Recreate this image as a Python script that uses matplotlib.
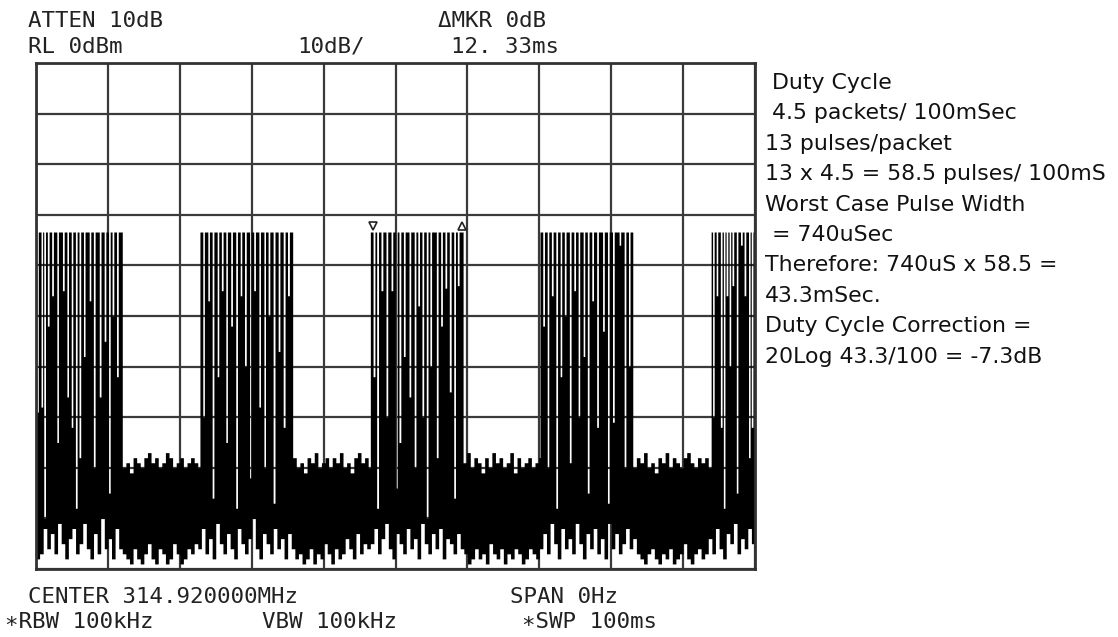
import numpy as np
import matplotlib.pyplot as plt
from matplotlib.transforms import offset_copy

# zero span sweep, 100 ms, 10 dB/div from 0 dBm
sweep_ms = 100
ref_db = 0
db_div = 10

pulse_top = -33.4
packet_start = [0.0, 22.8, 46.5, 70.1, 93.9]
packet_end = [12.0, 35.7, 59.4, 83.0, 100.0]

# white gaps between pulses: (time ms, level the gap reaches down to)
gaps_1 = [(0.2, -69), (0.8, -68), (1.2, -90), (1.7, -52), (2.3, -46), (3.0, -75), (3.8, -45),
          (4.4, -66), (5.0, -72), (5.6, -88), (6.1, -78), (6.7, -58), (7.5, -47), (8.1, -80),
          (8.9, -66), (9.6, -55), (10.2, -85), (10.7, -50), (11.3, -62)]
gaps_2 = [(23.3, -70), (24.0, -47), (24.6, -86), (25.3, -62), (25.9, -45), (26.5, -75), (27.2, -52),
          (27.9, -88), (28.5, -46), (29.1, -60), (29.8, -82), (30.4, -45), (31.1, -68), (31.8, -80),
          (32.4, -50), (33.1, -87), (33.8, -57), (34.5, -72), (35.1, -46)]
gaps_3 = [(47.0, -62), (47.5, -88), (48.1, -45), (48.8, -70), (49.5, -45), (50.1, -84), (50.6, -75),
          (51.2, -58), (52.0, -66), (52.7, -80), (53.2, -48), (53.8, -70), (54.4, -90), (54.9, -60),
          (55.8, -78), (56.4, -52), (57.0, -44.5), (57.6, -65), (58.2, -86), (58.7, -44)]
gaps_4 = [(70.6, -52), (71.2, -80), (71.8, -46), (72.4, -88), (73.0, -62), (73.6, -50), (74.3, -79),
          (74.9, -45), (75.5, -70), (76.2, -58), (76.8, -85), (77.4, -47), (78.1, -72), (78.9, -53),
          (79.6, -87), (80.3, -71), (81.2, -36), (81.9, -80), (82.5, -60)]
gaps_5 = [(94.2, -70), (94.7, -46), (95.3, -72), (95.7, -88), (96.1, -46), (96.5, -60), (96.9, -44),
          (97.5, -85), (98.1, -36), (98.6, -46), (99.2, -78), (99.6, -72)]
gap_width = 0.24

# top of the noise floor between packets, 0.5 ms steps from each packet end
bin_ms = 0.5
quiet_top_1 = [-80, -79, -81, -78, -79, -80, -78, -77, -79, -78, -80, -79, -77, -78, -80, -79, -78,
               -80, -79, -78, -79, -80]
quiet_top_2 = [-78, -80, -79, -81, -78, -79, -77, -80, -79, -78, -80, -78, -79, -77, -80, -79, -81,
               -78, -77, -79, -78, -80]
quiet_top_3 = [-79, -77, -80, -78, -79, -81, -78, -80, -77, -79, -78, -80, -79, -77, -81, -78, -80,
               -79, -78, -80, -79, -78]
quiet_top_4 = [-80, -78, -79, -77, -80, -79, -81, -78, -79, -77, -80, -78, -79, -80, -78, -77, -79,
               -80, -78, -79, -78, -80]
quiet_top = [quiet_top_1, quiet_top_2, quiet_top_3, quiet_top_4]

# bottom of the trace, 0.5 ms steps over the whole sweep
floor_bottom = [
    -98, -97, -92, -96, -93, -97, -91, -95, -98, -94, -92, -97, -95, -91, -96, -98, -93, -97, -90, -96,
    -94, -98, -92, -96,
    -97, -98, -99, -96, -98, -99, -97, -95, -98, -99, -96, -97, -99, -98, -95, -97, -99, -98, -96, -97,
    -95,
    -96, -92, -97, -94, -98, -91, -95, -97, -93, -96, -98, -92, -95, -97, -94, -90, -96, -98, -93, -95,
    -97, -92, -96, -94, -98, -93, -96,
    -98, -97, -99, -98, -96, -99, -97, -98, -95, -97, -99, -96, -98, -97, -94, -96, -98, -93, -97, -95,
    -96,
    -95, -92, -97, -94, -91, -96, -98, -93, -95, -97, -92, -96, -94, -98, -91, -95, -97, -93, -96, -92,
    -98, -94, -95, -97, -93, -96,
    -97, -99, -98, -96, -98, -97, -99, -95, -97, -98, -96, -99, -97, -98, -96, -97, -99, -98, -96, -97,
    -98,
    -96, -93, -97, -91, -95, -98, -92, -96, -94, -97, -91, -95, -98, -93, -96, -92, -97, -94, -98, -91,
    -96, -93, -97, -95, -92, -96, -94,
    -97, -98, -99, -97, -96, -98, -99, -97, -98, -96, -99, -98, -97, -95, -98, -99, -97, -96, -98, -97,
    -94, -97, -92, -96, -98, -93, -95, -91, -97, -94, -96, -92, -95,
]

mkr_ms = 46.85
mkr_delta_ms = 12.33

header = [("ATTEN 10dB", 28, 27), ("RL 0dBm", 28, 53), ("10dB/", 297, 53),
          ("\u0394MKR 0dB", 438, 27), ("12. 33ms", 451, 53)]
footer = [("CENTER 314.920000MHz", 28, 603), ("SPAN 0Hz", 510, 603),
          ("\u2217RBW 100kHz", 5, 628), ("VBW 100kHz", 262, 628), ("\u2217SWP 100ms", 522, 628)]
notes = [" Duty Cycle", " 4.5 packets/ 100mSec", "13 pulses/packet", "13 x 4.5 = 58.5 pulses/ 100mS",
         "Worst Case Pulse Width", " = 740uSec", "Therefore: 740uS x 58.5 =", "43.3mSec.",
         "Duty Cycle Correction =", "20Log 43.3/100 = -7.3dB"]

# build the trace envelope
t = np.arange(0, sweep_ms, 0.02)
b = np.minimum((t / bin_ms).astype(int), len(floor_bottom) - 1)
lo = np.array(floor_bottom, dtype=float)[b]
hi = np.full_like(t, -80.0)
for k in range(4):
    m = (t >= packet_end[k]) & (t < packet_start[k + 1])
    idx = np.minimum(((t[m] - packet_end[k]) / bin_ms).astype(int), len(quiet_top[k]) - 1)
    hi[m] = np.array(quiet_top[k], dtype=float)[idx]
for s, e in zip(packet_start, packet_end):
    hi[(t >= s) & (t < e)] = pulse_top
for gaps in [gaps_1, gaps_2, gaps_3, gaps_4, gaps_5]:
    for gt, depth in gaps:
        hi[np.abs(t - gt) < gap_width / 2] = depth

W, H = 1118, 637
fig = plt.figure(figsize=(W / 100, H / 100), dpi=100)
ax = fig.add_axes([36 / W, 1 - 569 / H, (755 - 36) / W, (569 - 63) / H])

ax.fill_between(t, lo, hi, step="post", color="black", linewidth=0, zorder=2)

# markers
tr = offset_copy(ax.transData, fig=fig, x=0, y=4, units="points")
ax.plot([mkr_ms], [pulse_top], marker="v", ms=6, mfc="white", mec="#222", mew=1.2,
        transform=tr, zorder=4, clip_on=False)
ax.plot([mkr_ms + mkr_delta_ms], [pulse_top], marker="^", ms=6, mfc="white", mec="#222", mew=1.2,
        transform=tr, zorder=4, clip_on=False)

ax.set_xlim(0, sweep_ms)
ax.set_ylim(ref_db - 10 * db_div, ref_db)
ax.set_xticks(np.arange(0, sweep_ms + 1, sweep_ms / 10))
ax.set_yticks(np.arange(ref_db - 10 * db_div, ref_db + 1, db_div))
ax.grid(True, color="#3a3a3a", linewidth=1.6, zorder=1)
ax.set_axisbelow(True)
ax.tick_params(length=0, labelbottom=False, labelleft=False)
for sp in ax.spines.values():
    sp.set_linewidth(2)
    sp.set_color("#333333")
    sp.set_zorder(5)

mono = dict(family="DejaVu Sans Mono", fontsize=16.2, color="#222222", va="baseline")
for txt, x, y in header + footer:
    fig.text(x / W, 1 - y / H, txt, **mono)

for i, line in enumerate(notes):
    fig.text(765 / W, 1 - (89 + i * 30.4) / H, line, family="DejaVu Sans", fontsize=15.8,
             color="#111111", va="baseline")

fig.savefig("out.png", dpi=100)
